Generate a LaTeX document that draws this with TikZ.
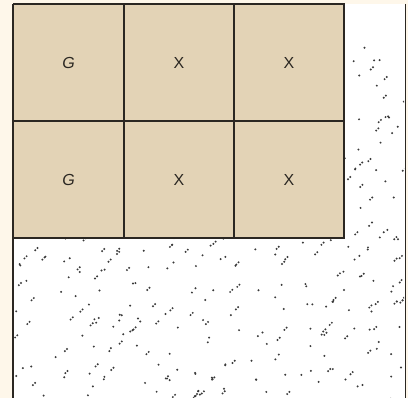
\documentclass[tikz,border=0pt]{standalone}
\usepackage{fontspec}
\setmainfont{Liberation Sans}
\definecolor{creamcol}{HTML}{FEF7EA}
\definecolor{tancol}{HTML}{E3D3B6}
\definecolor{bordercol}{HTML}{2B2722}
\definecolor{dotcol}{HTML}{3A3A3A}
\begin{document}
\begin{tikzpicture}[x=1pt,y=-1pt,
  cell/.style={draw=bordercol, line width=1.8pt, fill=tancol, minimum width=110pt, minimum height=117pt, inner sep=0pt, font=\fontsize{16}{16}\selectfont, text=bordercol},
  dot/.style={fill=dotcol}]
\useasboundingbox (0,0) rectangle (408,398);
\fill[creamcol] (0,0) rectangle (408,398);
\fill[white] (13,4) rectangle (405,398);
\begin{scope}
\clip (14,5) rectangle (404,398);
\pgfmathsetseed{11}
\foreach \c in {240,262,...,800} {
  \foreach \k in {1,...,32} {
    \pgfmathsetmacro\s{rnd*430}
    \pgfmathsetmacro\d{(rnd-0.5)*8}
    \pgfmathsetmacro\yy{\c-\s+\d}
    \fill[dot] (\s,\yy) circle (1.1pt);
    \pgfmathsetmacro\pp{rnd}
    \ifdim\pp pt<0.3pt
      \fill[dot] (\s+2.2,\yy-2.2) circle (1.1pt);
    \fi
  }
}
\end{scope}
\draw[bordercol, line width=1.5pt] (13,4) -- (13,398);
\draw[bordercol, line width=0.8pt] (405,4) -- (405,398);
\node[cell] (g1) at (68.5,62.5) {\itshape G};
\node[cell] (x1) at (179,62.5) {X};
\node[cell] (x2) at (289,62.5) {X};
\node[cell] (g2) at (68.5,179.5) {\itshape G};
\node[cell] (x3) at (179,179.5) {X};
\node[cell] (x4) at (289,179.5) {X};
\end{tikzpicture}
\end{document}
